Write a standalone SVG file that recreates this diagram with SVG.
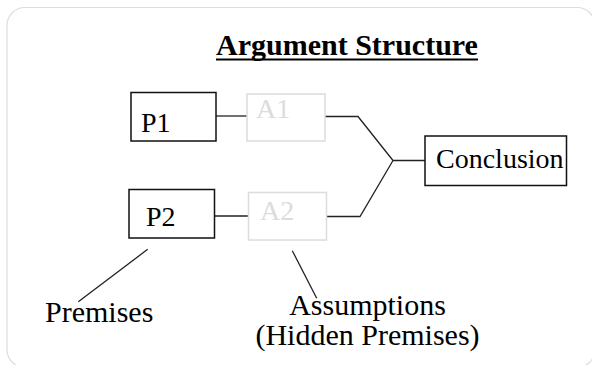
<svg xmlns="http://www.w3.org/2000/svg" width="592" height="365" viewBox="0 0 592 365">
<style>
text{font-family:"Liberation Serif","Times New Roman",serif;font-size:28px;fill:#000}
.title{font-weight:bold;font-size:30px}
.label{font-size:30px}
.box{fill:#fff;stroke:#111;stroke-width:1.5}
.abox{fill:#fff;stroke:#dcdcdc;stroke-width:1.5}
.atext{fill:#dcdcdc}
.conn line,.conn polyline{stroke:#222;stroke-width:1.3;fill:none}
</style>
<rect x="0" y="0" width="592" height="365" fill="#fff"/>
<rect x="7" y="7.5" width="588" height="360" rx="18" ry="18" fill="#fff" stroke="#dddddd" stroke-width="1.2"/>
<g id="title">
<text class="title" x="216" y="55">Argument Structure</text>
<line x1="216" y1="59.5" x2="478" y2="59.5" stroke="#000" stroke-width="2"/>
</g>
<g class="conn" id="connectors">
<line x1="216" y1="116" x2="247" y2="116"/>
<line x1="212" y1="216" x2="248" y2="216"/>
<polyline points="325,116.5 358,116.5 393,160.5 425,160.5"/>
<polyline points="327,216.5 360,216.5 393,160.5"/>
<line x1="147.7" y1="249.3" x2="78.3" y2="301.7"/>
<line x1="292.3" y1="250.7" x2="316.7" y2="298.3"/>
</g>
<g id="P1"><rect class="box" x="131" y="92.5" width="85" height="48.5"/><text x="141" y="131.5">P1</text></g>
<g id="A1"><rect class="abox" x="247" y="94" width="78" height="47"/><text class="atext" x="256" y="118">A1</text></g>
<g id="P2"><rect class="box" x="129" y="189.5" width="85.5" height="48.5"/><text x="146" y="225.5">P2</text></g>
<g id="A2"><rect class="abox" x="248.5" y="192.5" width="78" height="47.5"/><text class="atext" x="260" y="220">A2</text></g>
<g id="Conclusion"><rect class="box" x="425" y="136" width="141.5" height="49.5"/><text x="436" y="168">Conclusion</text></g>
<g id="Premises"><text class="label" x="45" y="322">Premises</text></g>
<g id="Assumptions"><text class="label" x="367.5" y="315" text-anchor="middle">Assumptions</text><text class="label" x="367.5" y="345" text-anchor="middle">(Hidden Premises)</text></g>
</svg>
